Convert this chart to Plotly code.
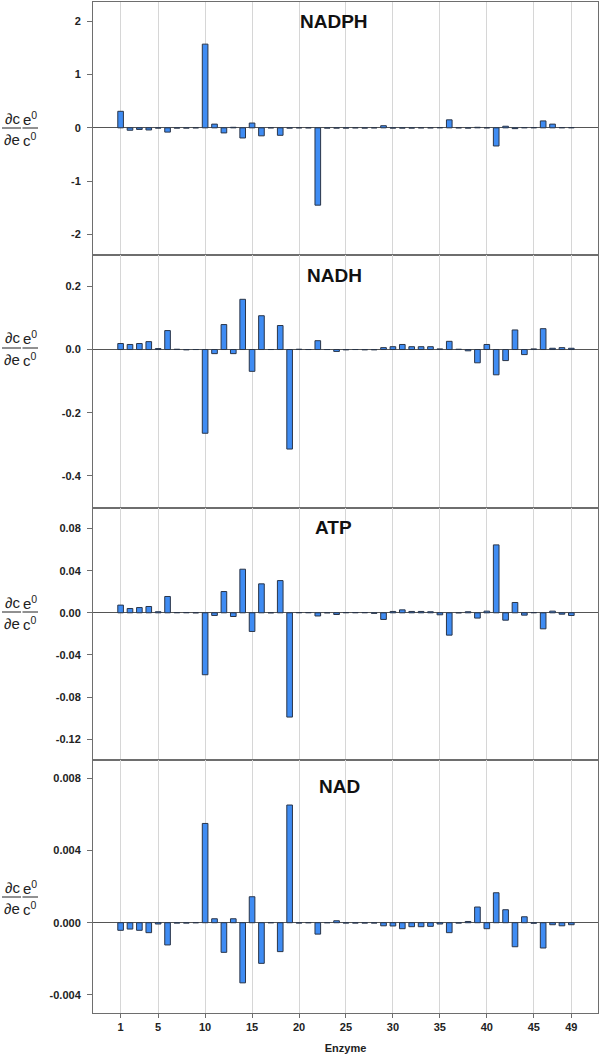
import plotly.graph_objects as go
from plotly.subplots import make_subplots

enzymes = list(range(1, 50))

nadph = [0.31, -0.045, -0.03, -0.04, -0.005, -0.08, -0.005, -0.005, 0, 1.57,
         0.07, -0.095, 0.01, -0.19, 0.09, -0.15, 0, -0.14, -0.005, 0,
         0, -1.45, -0.005, -0.005, -0.005, 0, -0.005, 0, 0.04, -0.005,
         -0.005, -0.005, 0, 0, 0.005, 0.15, 0, -0.005, 0.01, 0,
         -0.34, 0.03, -0.015, 0.005, 0.005, 0.13, 0.07, 0.005, 0.005]

nadh = [0.019, 0.016, 0.019, 0.025, 0.003, 0.06, 0.001, -0.001, 0, -0.265,
        -0.013, 0.079, -0.013, 0.159, -0.069, 0.107, 0, 0.076, -0.315, 0.001,
        0, 0.028, 0, -0.006, -0.001, 0, -0.001, -0.001, 0.006, 0.009,
        0.016, 0.009, 0.009, 0.009, 0.002, 0.026, 0.001, -0.004, -0.042, 0.016,
        -0.08, -0.035, 0.062, -0.016, 0.002, 0.066, 0.004, 0.006, 0.004]

atp = [0.0073, 0.0041, 0.005, 0.006, 0.001, 0.0155, 0.0003, 0.0003, 0, -0.0588,
       -0.0025, 0.0202, -0.0035, 0.0414, -0.0177, 0.0275, 0, 0.0306, -0.099, 0.0003,
       0.0003, -0.003, 0, -0.0016, 0.0003, 0.0003, 0.0003, -0.0005, -0.0063, 0.0013,
       0.0028, 0.0013, 0.0013, 0.001, -0.0019, -0.0212, 0, 0.001, -0.005, 0.0016,
       0.0645, -0.007, 0.0098, -0.0022, 0.0003, -0.0152, 0.0016, -0.0013, -0.0025]

nad = [-0.00042, -0.00035, -0.00042, -0.00055, -0.00007, -0.00123, -0.00002, -0.00002, 0, 0.0055,
       0.00022, -0.00164, 0.00022, -0.00333, 0.00144, -0.00225, 0, -0.0016, 0.00652, -0.00002,
       0, -0.00063, 0, 0.00011, -0.00002, -0.00002, -0.00002, -0.00002, -0.00017, -0.00018,
       -0.00033, -0.00022, -0.00022, -0.0002, -0.00007, -0.00055, -0.00002, 0.00007, 0.00087, -0.00033,
       0.00166, 0.00072, -0.00133, 0.00033, -0.00003, -0.0014, -0.00011, -0.00017, -0.00011]

panel_names = ["NADPH", "NADH", "ATP", "NAD"]
series = [nadph, nadh, atp, nad]

x_tickvals = [1, 5, 10, 15, 20, 25, 30, 35, 40, 45, 49]
x_ticktext = ["1", "5", "10", "15", "20", "25", "30", "35", "40", "45", "49"]

y_tickvals = [
    [-2, -1, 0, 1, 2],
    [-0.4, -0.2, 0, 0.2],
    [-0.12, -0.08, -0.04, 0, 0.04, 0.08],
    [-0.004, 0, 0.004, 0.008],
]
y_ticktext = [
    ["-2", "-1", "0", "1", "2"],
    ["-0.4", "-0.2", "0.0", "0.2"],
    ["-0.12", "-0.08", "-0.04", "0.00", "0.04", "0.08"],
    ["-0.004", "0.000", "0.004", "0.008"],
]
y_ranges = [[-2.38, 2.36], [-0.5, 0.3], [-0.14, 0.1], [-0.005, 0.009]]

W, H = 600, 1063
L, R, T, B = 93, 2, 2, 50
pw, ph = W - L - R, H - T - B


def xp(px):
    return (px - L) / pw


def yp(py):
    return 1 - (py - T) / ph


fig = make_subplots(rows=4, cols=1, shared_xaxes=True, vertical_spacing=0)

for i, vals in enumerate(series):
    fig.add_trace(
        go.Bar(x=enzymes, y=vals, width=0.6,
               marker=dict(color="#3f8cf3", line=dict(color="#2a3548", width=1)),
               showlegend=False),
        row=i + 1, col=1)
    fig.update_yaxes(
        row=i + 1, col=1, range=y_ranges[i], tickvals=y_tickvals[i], ticktext=y_ticktext[i],
        showgrid=False, zeroline=True, zerolinecolor="#555555", zerolinewidth=1,
        showline=True, linecolor="#6e6e6e", linewidth=1, mirror=True,
        ticks="outside", ticklen=5, tickcolor="#6e6e6e", ticklabelstandoff=4,
        tickfont=dict(family="Liberation Sans", size=11, color="#222222", weight="bold"))
    fig.update_xaxes(
        row=i + 1, col=1, range=[-1.94, 51.84], tickvals=x_tickvals, ticktext=x_ticktext,
        showgrid=True, gridcolor="#d6d6d6", gridwidth=1,
        showline=True, linecolor="#6e6e6e", linewidth=1, mirror=True,
        ticks="outside" if i == 3 else "", ticklen=4, tickcolor="#6e6e6e",
        showticklabels=(i == 3),
        tickfont=dict(family="Liberation Sans", size=11, color="#222222", weight="bold"))

fig.update_xaxes(row=4, col=1,
                 title=dict(text="Enzyme", standoff=12,
                            font=dict(family="Liberation Sans", size=11, color="#222222", weight="bold")))

title_pos = [(334, 22), (334, 275), (333, 527), (339, 786)]
label_y = [128, 348, 612, 897]

annotations = []
shapes = []
for i, name in enumerate(panel_names):
    tx, ty = title_pos[i]
    annotations.append(dict(text=name, x=xp(tx), y=yp(ty), xref="paper", yref="paper",
                            showarrow=False, xanchor="center", yanchor="middle",
                            font=dict(family="Liberation Sans", size=19, color="#111111", weight="bold")))
    ly = label_y[i]
    for txt, cx, cy in [("∂c", 12, ly - 10), ("e<sup>0</sup>", 29.5, ly - 10),
                        ("∂e", 12, ly + 11), ("c<sup>0</sup>", 29.5, ly + 11)]:
        annotations.append(dict(text=txt, x=xp(cx), y=yp(cy), xref="paper", yref="paper",
                                showarrow=False, xanchor="center", yanchor="middle",
                                font=dict(family="Liberation Sans", size=15, color="#222222")))
    for x0, x1 in [(2, 21), (22.5, 38)]:
        shapes.append(dict(type="line", xref="paper", yref="paper",
                           x0=xp(x0), x1=xp(x1), y0=yp(ly), y1=yp(ly),
                           line=dict(color="#222222", width=1)))

fig.update_layout(
    width=W, height=H,
    margin=dict(l=L, r=R, t=T, b=B),
    paper_bgcolor="white", plot_bgcolor="white",
    bargap=0.4,
    annotations=annotations, shapes=shapes,
)

fig.write_html(
    "out.html",
    config={"displayModeBar": False},
    post_script="document.body.style.margin='0';document.body.style.overflow='hidden';",
)
